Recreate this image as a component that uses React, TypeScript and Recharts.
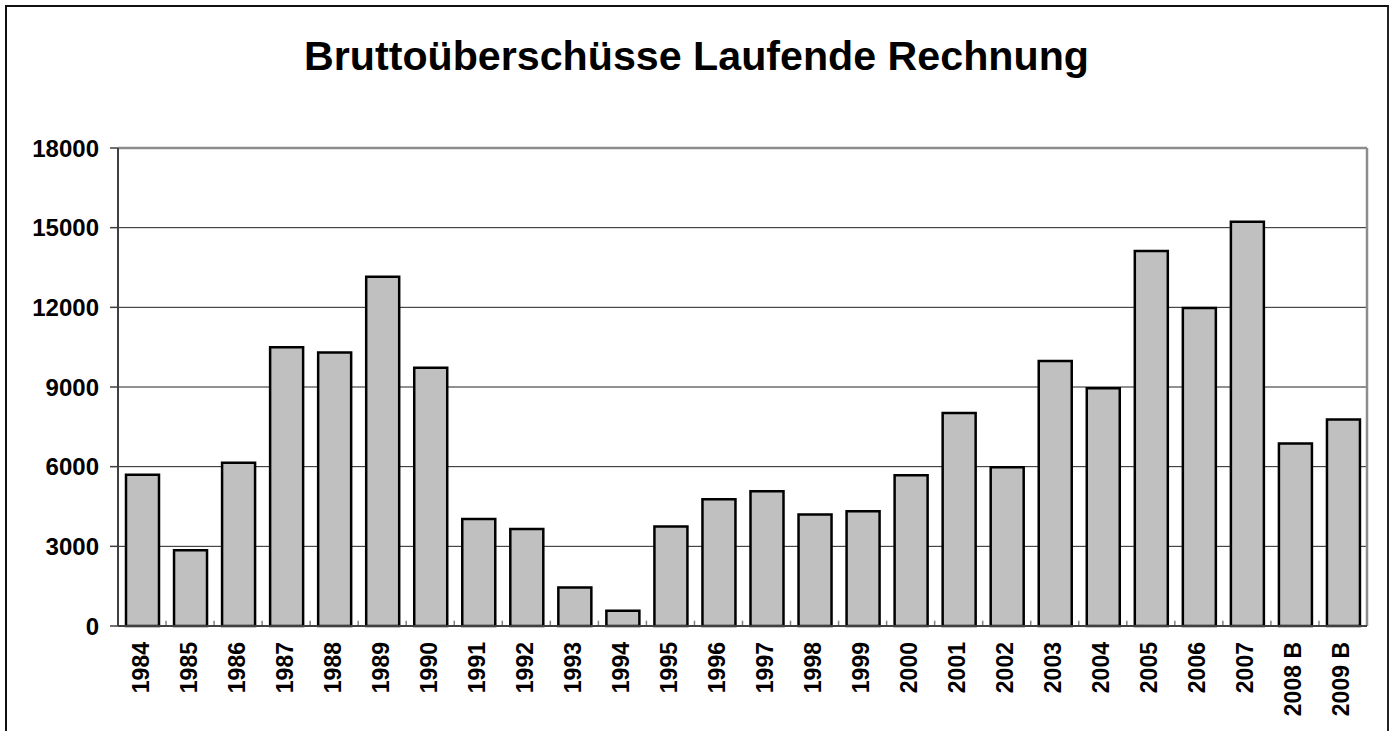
import {
  BarChart,
  Bar,
  XAxis,
  YAxis,
  CartesianGrid,
  ReferenceLine,
} from "recharts";

const years = [
  "1984", "1985", "1986", "1987", "1988", "1989", "1990", "1991", "1992",
  "1993", "1994", "1995", "1996", "1997", "1998", "1999", "2000", "2001",
  "2002", "2003", "2004", "2005", "2006", "2007", "2008 B", "2009 B",
];

const surplus = [
  5700, 2850, 6150, 10500, 10300, 13150, 9725, 4025, 3650,
  1450, 575, 3750, 4775, 5075, 4200, 4325, 5675, 8025,
  5975, 9975, 8950, 14125, 11975, 15225, 6875, 7775,
];

const yTicks = [0, 3000, 6000, 9000, 12000, 15000, 18000];

// tick marks between the categories (Excel style)
const sepTicks = years.slice(1).map((_, i) => i + 1);

const data = years.map((year, i) => ({ year, value: surplus[i], pos: i + 0.5 }));

const font = "'Liberation Sans', Arial, sans-serif";

const YearTick = (props: any) => {
  const { x, y, payload } = props;
  return (
    <g transform={`translate(${x},${y + 16}) rotate(-90)`}>
      <text
        x={0}
        y={0}
        dy={6.5}
        textAnchor="end"
        fill="#000"
        fontFamily={font}
        fontWeight="bold"
        fontSize={23}
      >
        {payload.value}
      </text>
    </g>
  );
};

const App = () => {
  return (
    <div
      style={{
        position: "absolute",
        left: 0,
        top: 0,
        width: 1396,
        height: 731,
        background: "#fff",
        overflow: "hidden",
      }}
    >
      {/* chart frame, open at the bottom */}
      <div
        style={{
          position: "absolute",
          left: 5,
          top: 5,
          width: 1380,
          height: 740,
          borderLeft: "2px solid #111",
          borderTop: "2px solid #111",
          borderRight: "2px solid #222",
        }}
      />
      <div
        style={{
          position: "absolute",
          left: 0,
          top: 36,
          width: 1393,
          textAlign: "center",
          fontFamily: font,
          fontWeight: "bold",
          fontSize: 41.2,
          lineHeight: "41px",
          color: "#000",
        }}
      >
        Bruttoüberschüsse Laufende Rechnung
      </div>
      <div style={{ position: "absolute", left: 0, top: 0 }}>
        <BarChart
          width={1396}
          height={731}
          data={data}
          margin={{ top: 148, right: 29, bottom: 0, left: 0 }}
          barCategoryGap={0}
        >
          <CartesianGrid vertical={false} stroke="#222" strokeWidth={1} />
          <XAxis
            dataKey="year"
            height={105}
            tickLine={false}
            tickSize={0}
            tickMargin={0}
            axisLine={{ stroke: "#404040", strokeWidth: 2 }}
            tick={<YearTick />}
            interval={0}
          />
          <XAxis
            xAxisId="sep"
            dataKey="pos"
            type="number"
            domain={[0, years.length]}
            allowDataOverflow
            hide
          />
          <YAxis
            width={118}
            domain={[0, 18000]}
            ticks={yTicks}
            interval={0}
            tickSize={8}
            tickMargin={11}
            axisLine={{ stroke: "#404040", strokeWidth: 2 }}
            tickLine={{ stroke: "#404040", strokeWidth: 1.5 }}
            tick={{
              fill: "#000",
              fontFamily: font,
              fontWeight: "bold",
              fontSize: 24,
            }}
          />
          <ReferenceLine y={18000} stroke="#8c8c8c" strokeWidth={2.5} />
          <ReferenceLine
            xAxisId="sep"
            x={years.length}
            stroke="#8c8c8c"
            strokeWidth={2.5}
            ifOverflow="visible"
          />
          {sepTicks.map((k) => (
            <ReferenceLine
              key={k}
              xAxisId="sep"
              segment={[
                { x: k, y: 0 },
                { x: k, y: 200 },
              ]}
              stroke="#808080"
              strokeWidth={1.5}
              ifOverflow="visible"
            />
          ))}
          <Bar
            dataKey="value"
            fill="#c0c0c0"
            stroke="#000"
            strokeWidth={2.5}
            barSize={33}
            isAnimationActive={false}
          />
        </BarChart>
      </div>
    </div>
  );
};

export default App;
